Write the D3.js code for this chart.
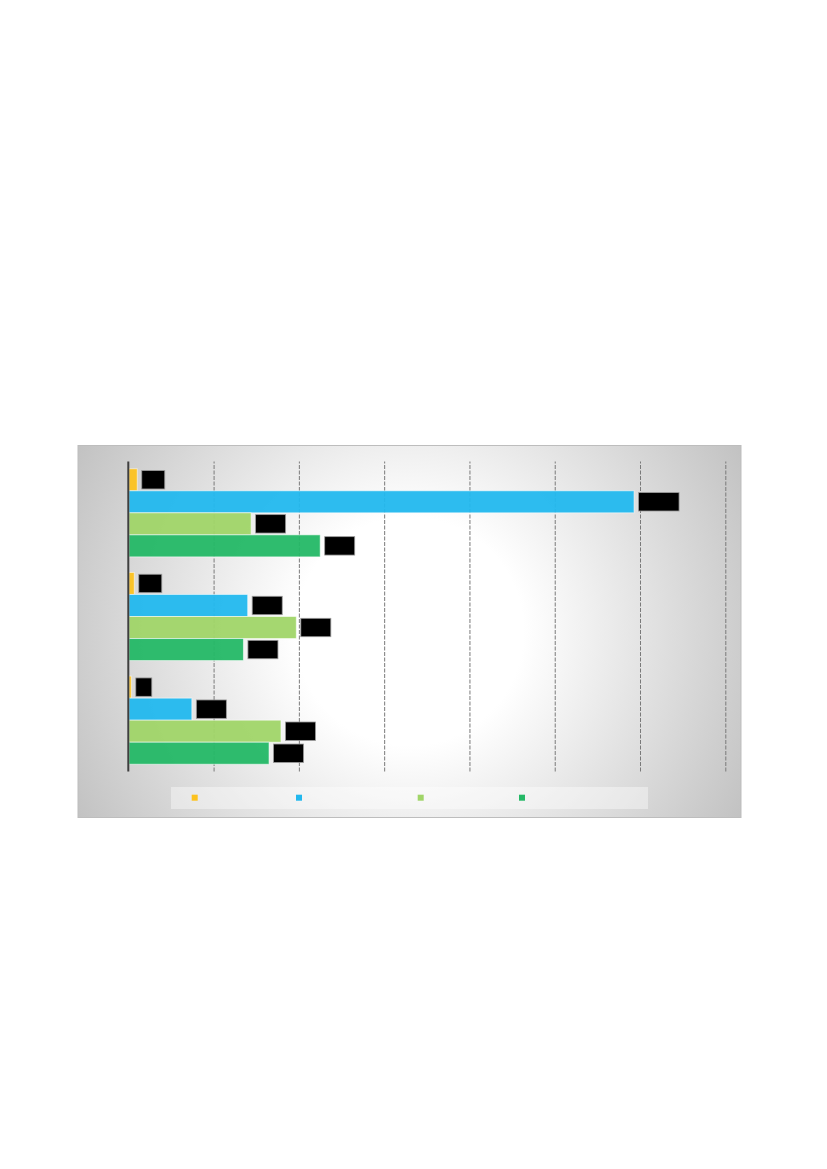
<!DOCTYPE html>
<html>
<head>
<meta charset="utf-8">
<script src="https://cdn.jsdelivr.net/npm/d3@7"></script>
<style>
  html, body { margin: 0; padding: 0; background: #ffffff; }
  svg { display: block; }
</style>
</head>
<body>
<svg id="chart" width="827" height="1169"></svg>
<script>
// ---- data ----
const categories = ["Group 1", "Group 2", "Group 3"];
const seriesNames = ["Series 1", "Series 2", "Series 3", "Series 4"];
const seriesColors = ["#fcc21f", "#22b8ee", "#a0d568", "#24b866"];
const series1 = [21, 14, 7];
const series2 = [1186, 280, 149];
const series3 = [288, 394, 358];
const series4 = [450, 270, 330];
const tickValues = [0, 200, 400, 600, 800, 1000, 1200, 1400];

const seriesValues = [series1, series2, series3, series4];
const rows = [];
categories.forEach((c, ci) => {
  seriesNames.forEach((s, si) => {
    rows.push({ category: c, series: s, si: si, value: seriesValues[si][ci] });
  });
});

// ---- layout ----
const svg = d3.select("#chart");
const panel = { x: 78, y: 445.5, w: 663, h: 372 };
const plot = { left: 128.3, right: 725.3, top: 461.5, bottom: 771.5 };

const defs = svg.append("defs");
const grad = defs.append("radialGradient")
  .attr("id", "bg")
  .attr("gradientUnits", "userSpaceOnUse")
  .attr("cx", panel.x + panel.w / 2)
  .attr("cy", panel.y + panel.h / 2)
  .attr("r", Math.hypot(panel.w / 2, panel.h / 2));
grad.append("stop").attr("offset", "0%").attr("stop-color", "#ffffff");
grad.append("stop").attr("offset", "30%").attr("stop-color", "#ffffff");
grad.append("stop").attr("offset", "100%").attr("stop-color", "#c2c2c2");

svg.append("rect")
  .attr("x", panel.x).attr("y", panel.y)
  .attr("width", panel.w).attr("height", panel.h)
  .attr("fill", "url(#bg)")
  .attr("stroke", "#bdbdbd").attr("stroke-width", 1);

const x = d3.scaleLinear().domain([0, 1400]).range([plot.left, plot.right]);
const y = d3.scaleBand().domain(categories).range([plot.top, plot.bottom])
  .paddingInner(0.15).paddingOuter(0.07);
const ys = d3.scaleBand().domain(seriesNames).range([0, y.bandwidth()]).padding(0);
const color = d3.scaleOrdinal().domain(seriesNames).range(seriesColors);

// grid lines via axis
const gridAxis = d3.axisBottom(x).tickValues(tickValues)
  .tickSize(-(plot.bottom - plot.top)).tickFormat("");
const grid = svg.append("g")
  .attr("transform", `translate(0,${plot.bottom})`)
  .call(gridAxis);
grid.select(".domain").remove();
grid.selectAll(".tick line")
  .attr("stroke", "#7a7a7a")
  .attr("stroke-width", 1)
  .attr("stroke-dasharray", "4,1.5");
grid.selectAll(".tick").filter(d => d === 0).remove();

// bars
const barG = svg.append("g");
barG.selectAll("rect")
  .data(rows)
  .join("rect")
  .attr("x", x(0) + 0.7)
  .attr("y", d => y(d.category) + ys(d.series))
  .attr("width", d => Math.max(0, x(d.value) - x(0) - 0.7))
  .attr("height", ys.bandwidth())
  .attr("fill", d => color(d.series))
  .attr("fill-opacity", 0.95)
  .attr("stroke", "rgba(255,255,255,0.55)")
  .attr("stroke-width", 1);

// left axis line
svg.append("line")
  .attr("x1", x(0)).attr("x2", x(0))
  .attr("y1", plot.top).attr("y2", plot.bottom)
  .attr("stroke", "#3f3f3f").attr("stroke-width", 2);

// value labels (black boxes with black text)
const fmt = d3.format(",");
const lab = svg.append("g").selectAll("g")
  .data(rows)
  .join("g")
  .attr("transform", d => `translate(${x(d.value) + 4.5},${y(d.category) + ys(d.series) + ys.bandwidth() / 2})`);
const labRect = lab.append("rect")
  .attr("y", -9.2).attr("height", 18.4)
  .attr("fill", "#000000")
  .attr("stroke", "#9a9a9a").attr("stroke-width", 0.8);
const labText = lab.append("text")
  .attr("x", 4.5).attr("dy", "0.35em")
  .attr("font-family", "Liberation Sans, Arial, sans-serif")
  .attr("font-size", 12.6)
  .attr("fill", "#000000")
  .text(d => fmt(d.value));
labText.each(function () {
  const w = this.getComputedTextLength();
  d3.select(this.parentNode).select("rect").attr("width", w + 9);
});

// legend
const legendBox = { x: 171, y: 787, w: 477, h: 22 };
svg.append("rect")
  .attr("x", legendBox.x).attr("y", legendBox.y)
  .attr("width", legendBox.w).attr("height", legendBox.h)
  .attr("fill", "#ffffff").attr("fill-opacity", 0.4);
const legendEntryWidths = [104.3, 121.7, 101.3, 0];
let lx = 191.7;
const legendPos = legendEntryWidths.map(w => { const p = lx; lx += w; return p; });
svg.append("g").selectAll("rect")
  .data(seriesNames)
  .join("rect")
  .attr("x", (d, i) => legendPos[i])
  .attr("y", 794.7)
  .attr("width", 6).attr("height", 6)
  .attr("fill", d => color(d));
</script>
</body>
</html>
